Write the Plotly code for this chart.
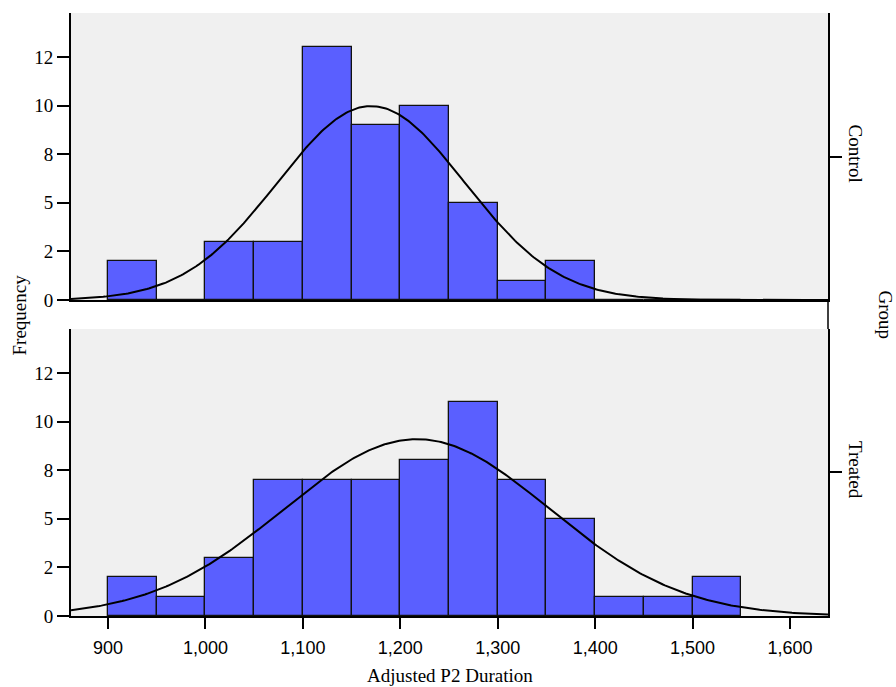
import numpy as np
import plotly.graph_objects as go

# ---- data ----
bin_starts = [900, 950, 1000, 1050, 1100, 1150, 1200, 1250, 1300, 1350, 1400, 1450, 1500]
bin_width = 50
control_counts = [2, 0, 3, 3, 13, 9, 10, 5, 1, 2, 0, 0, 0]
treated_counts = [2, 1, 3, 7, 7, 7, 8, 11, 7, 5, 1, 1, 2]
control_mean, control_sd = 1170, 96
treated_mean, treated_sd = 1217, 136
groups = ["Control", "Treated"]
y_tickvals = [0, 2.5, 5, 7.5, 10, 12.5]
y_ticktext = ["0", "2", "5", "8", "10", "12"]
x_tickvals = [900, 1000, 1100, 1200, 1300, 1400, 1500, 1600]
x_ticktext = ["900", "1,000", "1,100", "1,200", "1,300", "1,400", "1,500", "1,600"]
x_range = [862, 1639]
y_range = [0, 14.76]

BAR = "#5A5FFF"
BG = "#F0F0F0"
SERIF = "Liberation Serif, Times New Roman, serif"
SANS = "Liberation Sans, Arial, sans-serif"

fig = go.Figure()
centers = [s + bin_width / 2 for s in bin_starts]

def normal_curve(mean, sd, n):
    xs = np.linspace(x_range[0], x_range[1], 400)
    ys = n * bin_width / (sd * np.sqrt(2 * np.pi)) * np.exp(-0.5 * ((xs - mean) / sd) ** 2)
    return xs, ys

for counts, mean, sd, xa, ya in [
    (control_counts, control_mean, control_sd, "x", "y"),
    (treated_counts, treated_mean, treated_sd, "x2", "y2"),
]:
    fig.add_trace(go.Bar(x=centers, y=counts, width=bin_width, xaxis=xa, yaxis=ya,
                         marker=dict(color=BAR, line=dict(color="#111111", width=1.3)),
                         showlegend=False, hoverinfo="x+y"))
    xs, ys = normal_curve(mean, sd, sum(counts))
    fig.add_trace(go.Scatter(x=xs, y=ys, mode="lines", xaxis=xa, yaxis=ya,
                             line=dict(color="black", width=2), showlegend=False,
                             hoverinfo="skip"))

# dummy traces for right-side group axes
fig.add_trace(go.Scatter(x=[None], y=[None], xaxis="x", yaxis="y3", showlegend=False))
fig.add_trace(go.Scatter(x=[None], y=[None], xaxis="x2", yaxis="y4", showlegend=False))

top_dom = [0.524, 1.0]
bot_dom = [0.0, 0.476]

yaxis_common = dict(range=y_range, tickvals=y_tickvals, ticktext=y_ticktext,
                    ticks="outside", ticklen=12, tickwidth=2, tickcolor="black",
                    showline=True, linecolor="black", linewidth=2, showgrid=False,
                    zeroline=False, tickfont=dict(family=SERIF, size=19, color="black"),
                    fixedrange=True)
right_common = dict(range=[0, 1], side="right", showline=True, linecolor="black",
                    linewidth=1.5, ticks="outside", ticklen=12, tickwidth=1.5,
                    tickcolor="black", tickangle=90, showgrid=False, zeroline=False,
                    tickfont=dict(family=SERIF, size=19, color="black"), fixedrange=True)

fig.update_layout(
    width=896, height=687,
    margin=dict(l=71, r=68, t=13, b=71),
    paper_bgcolor="white", plot_bgcolor=BG,
    bargap=0,
    xaxis=dict(domain=[0, 1], range=x_range, anchor="y", showticklabels=False,
               ticks="", showline=True, linecolor="black", linewidth=2,
               showgrid=False, zeroline=False, fixedrange=True),
    xaxis2=dict(domain=[0, 1], range=x_range, anchor="y2", tickvals=x_tickvals,
                ticktext=x_ticktext, ticks="outside", ticklen=11, tickwidth=2,
                tickcolor="black", showline=True, linecolor="black", linewidth=2,
                showgrid=False, zeroline=False, ticklabelstandoff=3,
                tickfont=dict(family=SANS, size=18, color="black"), fixedrange=True),
    yaxis=dict(domain=top_dom, anchor="x", **yaxis_common),
    yaxis2=dict(domain=bot_dom, anchor="x2", **yaxis_common),
    yaxis3=dict(overlaying="y", anchor="x", tickvals=[0.5], ticktext=[groups[0]], **right_common),
    yaxis4=dict(overlaying="y2", anchor="x2", tickvals=[0.5], ticktext=[groups[1]], **right_common),
    shapes=[dict(type="line", xref="paper", yref="paper", x0=1, x1=1, y0=0.476, y1=0.524,
                 line=dict(color="black", width=1.5))],
    annotations=[
        dict(text="Frequency", xref="paper", yref="paper", x=-0.0674, y=0.5,
             xanchor="center", yanchor="middle", textangle=-90, showarrow=False,
             font=dict(family=SERIF, size=19, color="black")),
        dict(text="Group", xref="paper", yref="paper", x=1.0753, y=0.5,
             xanchor="center", yanchor="middle", textangle=90, showarrow=False,
             font=dict(family=SERIF, size=19, color="black")),
        dict(text="Adjusted P2 Duration", xref="paper", yref="paper", x=0.5, y=-0.098,
             xanchor="center", yanchor="middle", showarrow=False,
             font=dict(family=SERIF, size=19, color="black")),
    ],
)

fig.write_html(
    "out.html",
    config={"displayModeBar": False},
    post_script="document.body.style.margin='0';document.body.style.overflow='hidden';",
)
